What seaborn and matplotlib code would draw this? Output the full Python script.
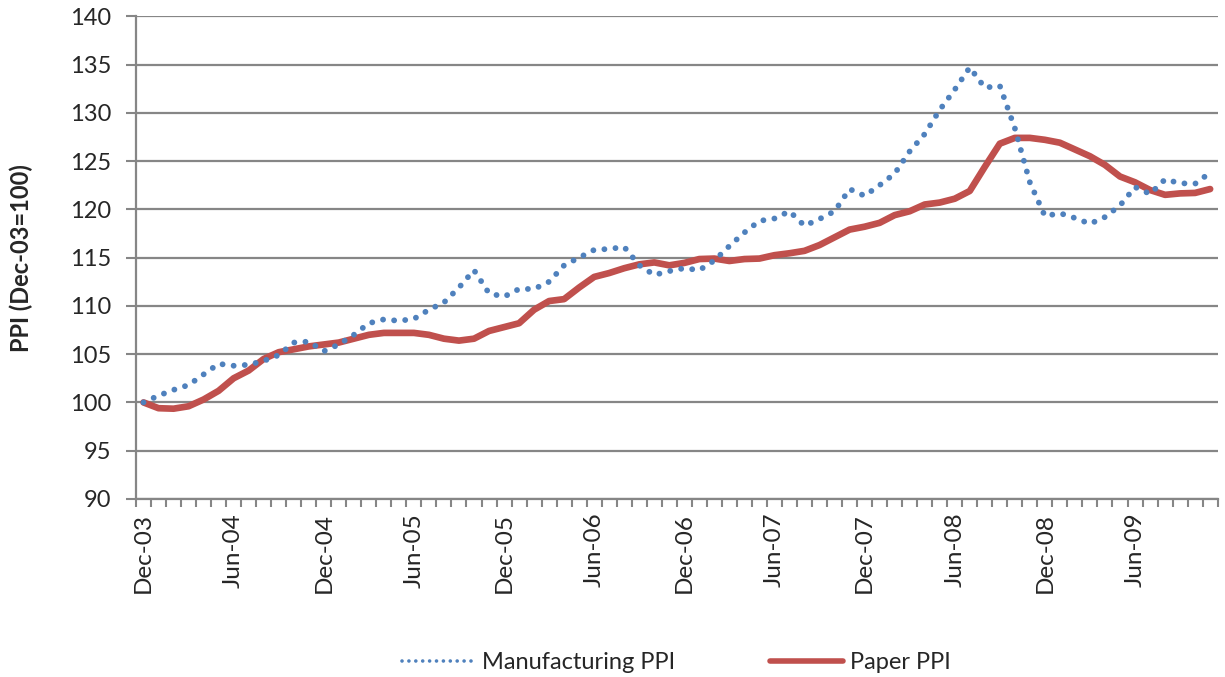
import matplotlib
matplotlib.use("Agg")
import matplotlib.pyplot as plt
from matplotlib.lines import Line2D
from matplotlib.transforms import ScaledTranslation
import numpy as np
import pandas as pd
import seaborn as sns

# Monthly index values, Dec-03 = 100 (Dec-03 .. Nov-09)
manufacturing_ppi = [
    100.0, 100.7, 101.3, 101.8, 102.9, 104.0, 103.8, 103.9, 104.3, 104.9,
    106.2, 106.3, 105.3, 106.0, 107.0, 108.2, 108.6, 108.45, 108.65, 109.6,
    110.35, 111.9, 113.7, 111.3, 110.95, 111.75, 111.75, 112.5, 114.2, 115.0,
    115.8, 115.9, 116.1, 114.2, 113.2, 113.6, 113.9, 113.7, 114.7, 116.2,
    117.6, 118.8, 119.05, 119.8, 118.3, 119.0, 119.8, 122.1, 121.4, 122.5,
    123.7, 126.0, 127.8, 130.3, 132.4, 134.7, 132.6, 132.8, 128.4, 122.8,
    119.3, 119.6, 119.1, 118.5, 119.2, 120.4, 122.3, 121.6, 123.1, 122.7,
    122.65, 123.8,
]
paper_ppi = [
    100.0, 99.4, 99.35, 99.6, 100.3, 101.2, 102.5, 103.3, 104.5, 105.2,
    105.5, 105.8, 106.0, 106.2, 106.6, 107.0, 107.2, 107.2, 107.2, 107.0,
    106.6, 106.4, 106.6, 107.4, 107.8, 108.2, 109.6, 110.5, 110.7, 111.9,
    113.0, 113.4, 113.9, 114.3, 114.5, 114.2, 114.45, 114.85, 114.9, 114.65,
    114.85, 114.9, 115.25, 115.45, 115.7, 116.3, 117.1, 117.9, 118.2, 118.6,
    119.4, 119.8, 120.5, 120.7, 121.1, 121.9, 124.4, 126.8, 127.4, 127.4,
    127.2, 126.9, 126.2, 125.5, 124.6, 123.4, 122.8, 122.0, 121.5, 121.65,
    121.7, 122.1,
]
tick_labels = ["Dec-03", "Jun-04", "Dec-04", "Jun-05", "Dec-05", "Jun-06",
               "Dec-06", "Jun-07", "Dec-07", "Jun-08", "Dec-08", "Jun-09"]
series_names = ["Manufacturing PPI", "Paper PPI"]
y_ticks = [90, 95, 100, 105, 110, 115, 120, 125, 130, 135, 140]

sns.set_theme(style="white")
plt.rcParams["font.family"] = ["Lato", "DejaVu Sans"]

BLUE = "#4F81BD"
RED = "#C0504D"
GRID = "#868686"

n = len(paper_ppi)
df = pd.DataFrame({"month": np.arange(n),
                   "manufacturing": manufacturing_ppi,
                   "paper": paper_ppi})

fig = plt.figure(figsize=(12.25, 6.77), dpi=100)
ax = fig.add_axes([0.111, 0.263, 0.883, 0.713])

sns.lineplot(data=df, x="month", y="manufacturing", ax=ax, color=BLUE,
             linewidth=4.2, linestyle=(0, (0.01, 1.9)),
             dash_capstyle="round", zorder=3)
sns.lineplot(data=df, x="month", y="paper", ax=ax, color=RED,
             linewidth=4.8, solid_joinstyle="round", zorder=2)

ax.set_xlim(-0.5, n - 0.5)
ax.set_ylim(90, 140)
ax.set_yticks(y_ticks)
ax.set_yticklabels([str(v) for v in y_ticks], fontsize=17)

label_pos = np.arange(0, n, 6)[:len(tick_labels)]
ax.set_xticks(label_pos)
ax.set_xticklabels(tick_labels, rotation=90, fontsize=17.5)
shift = ScaledTranslation(4 / 100, 0, fig.dpi_scale_trans)
for lbl in ax.get_xticklabels():
    lbl.set_transform(lbl.get_transform() + shift)
ax.set_xticks(np.arange(-0.5, n, 1.0), minor=True)
ax.tick_params(axis="x", which="major", length=0, pad=10)
ax.tick_params(axis="x", which="minor", length=6, width=1.5, color=GRID,
               direction="out", bottom=True)
ax.tick_params(axis="y", length=7, width=1.5, color=GRID, direction="out",
               left=True, pad=11)

ax.yaxis.grid(True, color=GRID, linewidth=1.6)
ax.xaxis.grid(False)
ax.set_axisbelow(True)
for side in ["top", "right"]:
    ax.spines[side].set_visible(False)
for side in ["left", "bottom"]:
    ax.spines[side].set_color(GRID)
    ax.spines[side].set_linewidth(1.6)

ax.set_xlabel("")
ax.set_ylabel("PPI (Dec-03=100)", fontsize=17, fontweight="bold", labelpad=26)

handles = [
    Line2D([], [], color=BLUE, linewidth=2.6, linestyle=(0, (0.01, 1.9)),
           dash_capstyle="round"),
    Line2D([], [], color=RED, linewidth=4.0),
]
fig.legend(handles, series_names, loc="center", bbox_to_anchor=(0.552, 0.021),
           ncol=2, frameon=False, fontsize=17, handlelength=3.1,
           handletextpad=0.3, columnspacing=4.0)

fig.savefig("out.png", dpi=100)
